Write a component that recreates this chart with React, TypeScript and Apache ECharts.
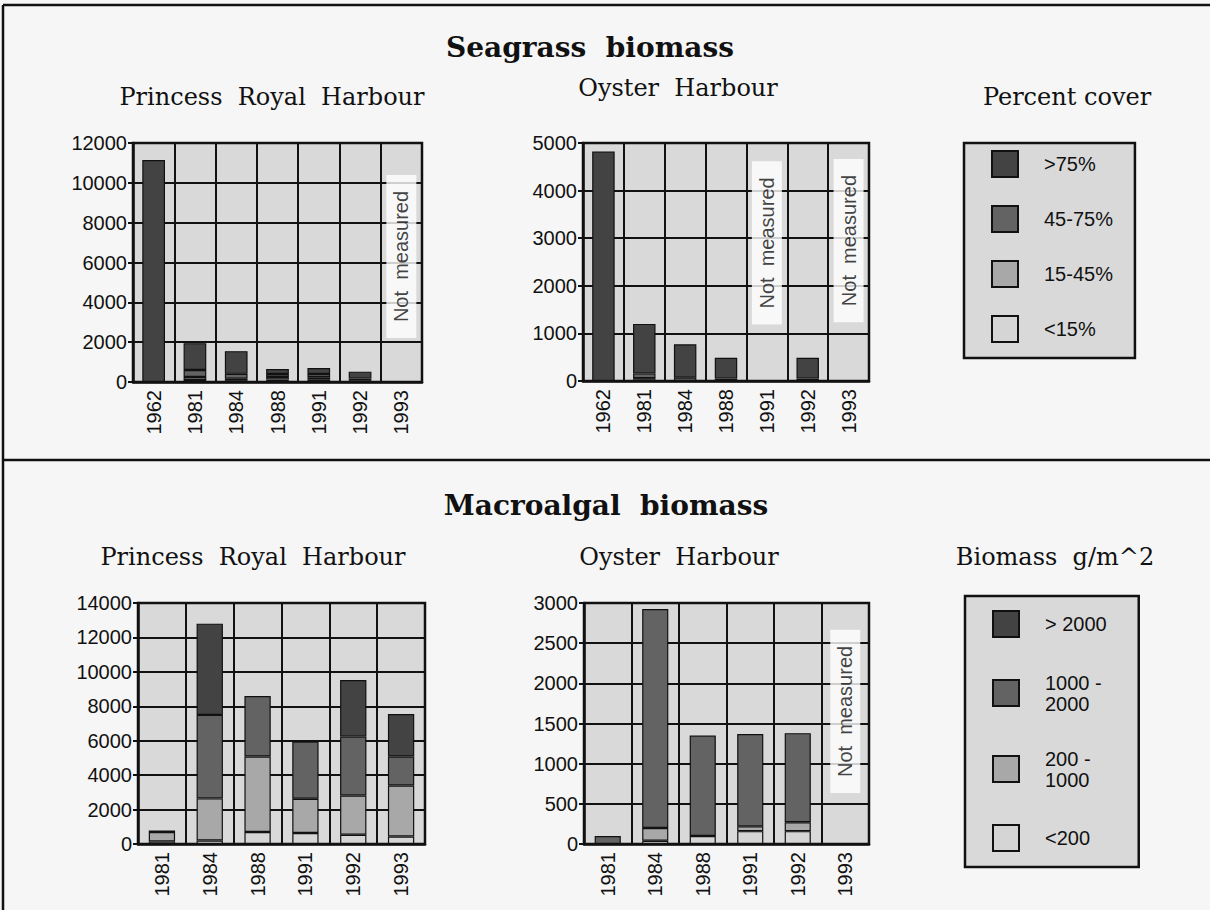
import React, { useEffect, useRef } from 'react';
import * as echarts from 'echarts';

// ---------- data ----------
const seagrassYears = ['1962', '1981', '1984', '1988', '1991', '1992', '1993'];
const macroYears = ['1981', '1984', '1988', '1991', '1992', '1993'];

const seagrassClasses = ['<15%', '15-45%', '45-75%', '>75%'];
const macroClasses = ['<200', '200 -\n1000', '1000 -\n2000', '> 2000'];
const classColors = ['#d5d5d5', '#a8a8a8', '#636363', '#434343'];

// Seagrass, Princess Royal Harbour (stack bottom -> top)
const prhSeaLt15 = [0, 100, 60, 120, 110, 30, null];
const prhSea15to45 = [0, 150, 100, 130, 130, 40, null];
const prhSea45to75 = [0, 350, 250, 150, 160, 100, null];
const prhSeaGt75 = [11150, 1350, 1140, 250, 300, 350, null];

// Seagrass, Oyster Harbour
const ohSeaLt15 = [0, 30, 0, 0, null, 0, null];
const ohSea15to45 = [0, 30, 0, 0, null, 0, null];
const ohSea45to75 = [0, 100, 70, 50, null, 50, null];
const ohSeaGt75 = [4820, 1040, 700, 440, null, 440, null];

// Macroalgae, Princess Royal Harbour
const prhMacLt200 = [150, 200, 700, 640, 540, 440];
const prhMac200to1000 = [550, 2450, 4380, 1990, 2280, 2960];
const prhMac1000to2000 = [90, 4850, 3520, 3320, 3420, 1680];
const prhMacGt2000 = [0, 5300, 0, 0, 3280, 2470];

// Macroalgae, Oyster Harbour
const ohMacLt200 = [0, 40, 100, 160, 160, null];
const ohMac200to1000 = [0, 160, 0, 60, 110, null];
const ohMac1000to2000 = [100, 2725, 1250, 1150, 1110, null];
const ohMacGt2000 = [0, 0, 0, 0, 0, null];

// "Not measured" notes: [year, value at label centre]
const notMeasuredPrhSea = [['1993', 6300]];
const notMeasuredOhSea = [['1991', 2900], ['1993', 2950]];
const notMeasuredOhMac = [['1993', 1650]];

const yMaxes = [12000, 5000, 14000, 3000];
const yIntervals = [2000, 1000, 2000, 500];

// ---------- styles ----------
const SANS = '"Liberation Sans", Arial, sans-serif';
const SERIF = '"DejaVu Serif", "Liberation Serif", serif';
const INK = '#111';
const PLOT_BG = '#d9d9d9';
const FS = 20;

const clean = (arr: (number | null)[]) => arr.map((v) => (v === 0 ? null : v));

function stack(names: string[], arrs: (number | null)[][], idx: number) {
  return names.map((n, i) => ({
    name: n,
    type: 'bar',
    stack: 's' + idx,
    xAxisIndex: idx,
    yAxisIndex: idx,
    barWidth: '55%',
    data: clean(arrs[i]),
    itemStyle: { color: classColors[i], borderColor: INK, borderWidth: 1.2 },
    z: 3,
  }));
}

function notMeasured(data: (string | number)[][], idx: number) {
  return {
    type: 'scatter',
    xAxisIndex: idx,
    yAxisIndex: idx,
    data,
    symbol: 'rect',
    symbolSize: 1,
    silent: true,
    itemStyle: { color: 'rgba(0,0,0,0)' },
    label: {
      show: true,
      position: 'inside',
      rotate: 90,
      formatter: 'Not  measured',
      backgroundColor: '#fff',
      padding: [5, 16],
      fontFamily: SANS,
      fontSize: FS,
      color: INK,
    },
    z: 6,
  };
}

const grids = [
  { left: 133, top: 143, width: 289, height: 239 },
  { left: 583, top: 143, width: 286, height: 238 },
  { left: 138, top: 603, width: 287, height: 241 },
  { left: 584, top: 603, width: 285, height: 241 },
];

export default function App() {
  const ref = useRef<HTMLDivElement>(null);
  useEffect(() => {
    if (!ref.current) return;
    const chart = echarts.init(ref.current, undefined, { renderer: 'svg' });
    const xData = [seagrassYears, seagrassYears, macroYears, macroYears];
    const option: any = {
      animation: false,
      backgroundColor: '#f6f6f6',
      grid: grids.map((g) => ({
        ...g,
        show: true,
        backgroundColor: PLOT_BG,
        borderColor: INK,
        borderWidth: 2.5,
      })),
      xAxis: xData.map((d, i) => ({
        type: 'category',
        gridIndex: i,
        data: d,
        axisLine: { lineStyle: { color: INK, width: 2.5 } },
        axisTick: { show: false },
        splitLine: { show: true, lineStyle: { color: INK, width: 2 } },
        axisLabel: { rotate: 90, fontFamily: SANS, fontSize: FS, color: INK, margin: 8 },
      })),
      yAxis: yMaxes.map((m, i) => ({
        type: 'value',
        gridIndex: i,
        min: 0,
        max: m,
        interval: yIntervals[i],
        axisLine: { show: true, lineStyle: { color: INK, width: 2.5 } },
        axisTick: { show: true, length: 5, lineStyle: { color: INK, width: 2 } },
        splitLine: { show: true, lineStyle: { color: INK, width: 2 } },
        axisLabel: {
          fontFamily: SANS,
          fontSize: FS,
          color: INK,
          margin: 6,
          formatter: (v: number) => String(v),
        },
      })),
      legend: [
        {
          data: [...seagrassClasses].reverse(),
          orient: 'vertical',
          left: 964,
          top: 143,
          icon: 'rect',
          itemWidth: 26,
          itemHeight: 26,
          itemGap: 27,
          padding: [7, 22, 15, 27],
          backgroundColor: PLOT_BG,
          borderColor: INK,
          borderWidth: 2.5,
          selectedMode: false,
          itemStyle: { borderColor: INK, borderWidth: 2 },
          textStyle: { fontFamily: SANS, fontSize: FS, color: INK, padding: [0, 0, 0, 21] },
        },
        {
          data: [...macroClasses].reverse(),
          orient: 'vertical',
          left: 965,
          top: 596,
          icon: 'rect',
          itemWidth: 26,
          itemHeight: 26,
          itemGap: 34,
          padding: [14, 32, 15, 27],
          backgroundColor: PLOT_BG,
          borderColor: INK,
          borderWidth: 2.5,
          selectedMode: false,
          itemStyle: { borderColor: INK, borderWidth: 2 },
          textStyle: { fontFamily: SANS, fontSize: FS, lineHeight: 21, color: INK, padding: [0, 0, 0, 21] },
        },
      ],
      series: [
        ...stack(seagrassClasses, [prhSeaLt15, prhSea15to45, prhSea45to75, prhSeaGt75], 0),
        ...stack(seagrassClasses, [ohSeaLt15, ohSea15to45, ohSea45to75, ohSeaGt75], 1),
        ...stack(macroClasses, [prhMacLt200, prhMac200to1000, prhMac1000to2000, prhMacGt2000], 2),
        ...stack(macroClasses, [ohMacLt200, ohMac200to1000, ohMac1000to2000, ohMacGt2000], 3),
        notMeasured(notMeasuredPrhSea, 0),
        notMeasured(notMeasuredOhSea, 1),
        notMeasured(notMeasuredOhMac, 3),
      ],
      graphic: [
        { type: 'line', shape: { x1: 3, y1: 5, x2: 1210, y2: 5 }, style: { stroke: INK, lineWidth: 2.5 } },
        { type: 'line', shape: { x1: 3, y1: 5, x2: 3, y2: 910 }, style: { stroke: INK, lineWidth: 2.5 } },
        { type: 'line', shape: { x1: 3, y1: 460, x2: 1210, y2: 460 }, style: { stroke: INK, lineWidth: 2.5 } },
        { type: 'text', x: 590, y: 47, style: { text: 'Seagrass  biomass', font: `bold 28px ${SERIF}`, fill: INK, align: 'center', verticalAlign: 'middle' } },
        { type: 'text', x: 606, y: 505, style: { text: 'Macroalgal  biomass', font: `bold 28px ${SERIF}`, fill: INK, align: 'center', verticalAlign: 'middle' } },
        { type: 'text', x: 272, y: 97, style: { text: 'Princess  Royal  Harbour', font: `24px ${SERIF}`, fill: INK, align: 'center', verticalAlign: 'middle' } },
        { type: 'text', x: 678, y: 88, style: { text: 'Oyster  Harbour', font: `24px ${SERIF}`, fill: INK, align: 'center', verticalAlign: 'middle' } },
        { type: 'text', x: 1067, y: 97, style: { text: 'Percent cover', font: `24px ${SERIF}`, fill: INK, align: 'center', verticalAlign: 'middle' } },
        { type: 'text', x: 253, y: 557, style: { text: 'Princess  Royal  Harbour', font: `24px ${SERIF}`, fill: INK, align: 'center', verticalAlign: 'middle' } },
        { type: 'text', x: 679, y: 557, style: { text: 'Oyster  Harbour', font: `24px ${SERIF}`, fill: INK, align: 'center', verticalAlign: 'middle' } },
        { type: 'text', x: 1055, y: 557, style: { text: 'Biomass  g/m^2', font: `24px ${SERIF}`, fill: INK, align: 'center', verticalAlign: 'middle' } },
      ],
    };
    chart.setOption(option);
    return () => chart.dispose();
  }, []);
  return (
    <div
      ref={ref}
      style={{ position: 'fixed', left: 0, top: 0, width: 1210, height: 910 }}
    />
  );
}
